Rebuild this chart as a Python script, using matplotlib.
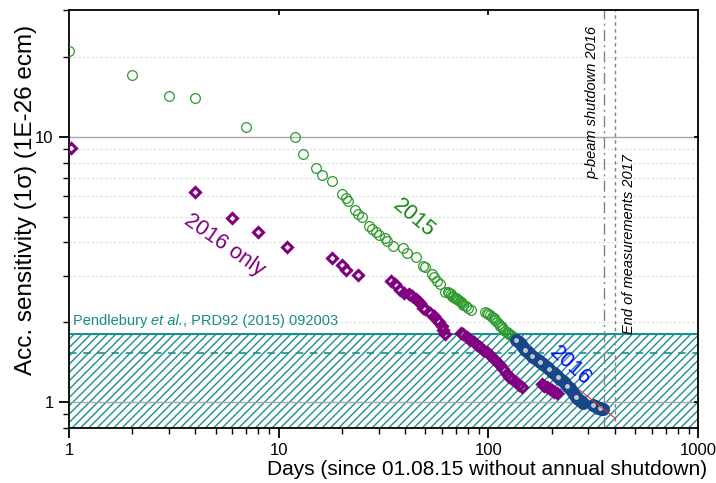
import matplotlib
matplotlib.use('Agg')
import matplotlib.pyplot as plt
from matplotlib.ticker import LogLocator, NullFormatter, FixedLocator, FixedFormatter

plt.rcParams['font.family'] = ['Liberation Sans', 'DejaVu Sans']
plt.rcParams['hatch.linewidth'] = 1.0

# 2015 run (open green circles)
days_2015 = [1, 2, 3, 4, 7, 12, 13, 15, 16, 18, 20, 21, 21.5, 23, 24, 25, 27, 28, 29, 30,
             32, 33, 35, 39, 41, 45, 48.6, 50, 54, 55, 57, 59, 62, 64, 65, 66, 67, 68, 69,
             70, 71, 72, 73, 74, 75, 76, 78, 80, 83,
             96, 98, 100, 102, 104, 106, 108, 110, 112, 114, 116, 118, 120, 122, 124, 126,
             128, 130, 133, 136]
sens_2015 = [21.0, 17.1, 14.2, 14.0, 10.9, 10.0, 8.58, 7.63, 7.18, 6.82, 6.11, 5.88, 5.74, 5.30,
             5.12, 4.97, 4.62, 4.51, 4.37, 4.28, 4.16, 4.06, 3.89, 3.80, 3.64, 3.52, 3.27, 3.22,
             3.03, 2.97, 2.87, 2.80, 2.61, 2.60, 2.57, 2.55, 2.52, 2.50, 2.48, 2.46, 2.44, 2.42,
             2.40, 2.38, 2.36, 2.33, 2.30, 2.26, 2.22,
             2.18, 2.17, 2.15, 2.13, 2.10, 2.07, 2.04, 2.00, 1.97, 1.94, 1.92, 1.89, 1.86, 1.84,
             1.82, 1.80, 1.79, 1.77, 1.75, 1.72]

# 2016 data only (purple diamonds)
days_2016only = [1.02, 4, 6, 8, 11, 18, 20, 21, 24,
                 34.5, 36, 38, 39.6, 42, 43, 45, 46, 47, 48.6, 50, 52.7, 55, 56.7, 58, 59.8,
                 61, 62,
                 74, 76, 79, 82, 85, 88, 91, 94, 98, 102, 106, 110, 114, 118, 122, 126, 130,
                 135, 140, 144,
                 180, 185, 190, 196, 200, 206, 212]
sens_2016only = [9.07, 6.21, 4.95, 4.38, 3.85, 3.49, 3.29, 3.15, 3.02,
                 2.87, 2.78, 2.64, 2.59, 2.55, 2.52, 2.44, 2.41, 2.37, 2.27, 2.24, 2.17, 2.12,
                 2.04, 2.00, 1.93, 1.87, 1.80,
                 1.83, 1.80, 1.76, 1.72, 1.68, 1.65, 1.62, 1.58, 1.55, 1.51, 1.46, 1.42, 1.38,
                 1.33, 1.28, 1.25, 1.22, 1.19, 1.16, 1.14,
                 1.17, 1.15, 1.14, 1.12, 1.11, 1.09, 1.08]

# combined 2015+2016 (filled blue circles)
days_2016 = [136, 140, 143, 146, 149, 152, 155, 158, 161, 164, 168, 172, 176, 180, 185, 190,
             195, 200, 205, 210, 215, 220, 226, 232, 238, 244, 250, 256, 262, 268, 275, 282,
             316, 322, 328, 334, 340, 346, 352]
sens_2016 = [1.72, 1.69, 1.66, 1.62, 1.58, 1.56, 1.54, 1.52, 1.50, 1.48, 1.46, 1.44, 1.42,
             1.40, 1.38, 1.36, 1.33, 1.30, 1.29, 1.27, 1.24, 1.22, 1.20, 1.18, 1.15, 1.13,
             1.10, 1.07, 1.05, 1.03, 1.01, 0.99,
             0.975, 0.97, 0.96, 0.955, 0.95, 0.945, 0.94]

# extrapolation to end of measurements
extrap_days = [273, 402]
extrap_sens = [1.11, 0.871]

limit_upper = 1.80
limit_central = 1.53
shutdown_day = 355
end_day = 400

fig = plt.figure(figsize=(7.16, 4.83), dpi=100)
ax = fig.add_axes([0.0964, 0.1139, 0.8786, 0.8651])
ax.set_xscale('log')
ax.set_yscale('log')
ax.set_xlim(1, 1000)
ax.set_ylim(0.8, 30)

# grid: solid at decades, dotted in between
for v in [1, 10]:
    ax.axhline(v, color='#a8a8a8', lw=1.0, zorder=1)
for v in [2, 3, 4, 5, 6, 7, 8, 9, 20]:
    ax.axhline(v, color='#dcdcdc', lw=0.8, ls=(0, (2, 2)), zorder=1)

# previous limit band
ax.fill_between([1, 1000], 0.8, limit_upper, facecolor='none', edgecolor='#1a9090',
                hatch='////', lw=0, zorder=0.5)
ax.axhline(limit_upper, color='#1a9090', lw=1.5, zorder=2)
ax.axhline(limit_central, color='#1a9090', lw=1.2, ls=(0, (4.5, 4)), zorder=2)

# reference label, chained pieces so "et al." can be italic
ref_color = '#1a8a8a'
t = ax.text(1.04, 2.02, 'Pendlebury ', color=ref_color, fontsize=10.5, va='center', ha='left')
for piece, style in [('et al.', 'italic'), (', PRD92 (2015) 092003', 'normal')]:
    t = ax.annotate(piece, xy=(1, 0), xycoords=t, va='bottom', ha='left',
                    color=ref_color, fontsize=10.5, style=style)

ax.axvline(shutdown_day, color='#808080', lw=1.0, ls=(0, (8, 3, 1.5, 3)), zorder=2)
ax.axvline(end_day, color='#808080', lw=1.0, ls=(0, (2.5, 2.5)), zorder=2)
ax.text(338, 26.1, 'p-beam shutdown 2016', rotation=90, style='italic', fontsize=10.5,
        ha='right', va='top')
ax.text(470, 1.8, 'End of measurements 2017', rotation=90, style='italic', fontsize=10.5,
        ha='center', va='bottom')

ax.plot(days_2015, sens_2015, ls='none', marker='o', ms=7, mfc='none', mec='#2e9a2e',
        mew=0.9, zorder=3)
ax.plot(days_2016only, sens_2016only, ls='none', marker='D', ms=5.2, mfc='none', mec='#800080',
        mew=2.2, zorder=3)
ax.plot(days_2016, sens_2016, ls='none', marker='o', ms=8.5, mfc='#17468a', mec='#17468a',
        mew=0.8, zorder=4)
ax.plot(days_2016[::4], sens_2016[::4], ls='none', marker='o', ms=2.5, mfc='#c8c8c8',
        mec='#c8c8c8', zorder=5)
ax.plot(extrap_days, extrap_sens, color='#e03030', lw=0.8, zorder=6)

ax.text(44, 4.95, '2015', color='#118811', fontsize=15.5, rotation=-40,
        ha='center', va='center')
ax.text(5.5, 3.9, '2016 only', color='#800080', fontsize=15.5, rotation=-35,
        ha='center', va='center')
ax.text(245, 1.37, '2016', color='#0a0aff', fontsize=15.5, rotation=-42,
        ha='center', va='center')

# ticks: outward with minors on left/bottom, inward majors on top/right
ax.xaxis.set_major_locator(FixedLocator([1, 10, 100, 1000]))
ax.xaxis.set_major_formatter(FixedFormatter(['1', '10', '100', '1000']))
ax.xaxis.set_minor_locator(LogLocator(base=10, subs=range(2, 10)))
ax.xaxis.set_minor_formatter(NullFormatter())
ax.yaxis.set_major_locator(FixedLocator([1, 10]))
ax.yaxis.set_major_formatter(FixedFormatter(['1', '10']))
ax.yaxis.set_minor_locator(LogLocator(base=10, subs=range(2, 10)))
ax.yaxis.set_minor_formatter(NullFormatter())
ax.tick_params(which='major', direction='out', length=7, width=1.3, labelsize=12,
               top=False, right=False)
ax.tick_params(which='minor', direction='out', length=4, width=1.0, top=False, right=False)
ax.tick_params(axis='x', pad=4)
ax.tick_params(axis='y', pad=4)
for x in [10, 100]:
    ax.plot([x, x], [30 / 1.035, 30], color='black', lw=1.3, zorder=6, clip_on=False)
for y in [1, 10]:
    ax.plot([1000 / 1.04, 1000], [y, y], color='black', lw=1.3, zorder=6, clip_on=False)
for s in ax.spines.values():
    s.set_linewidth(1.3)

fig.text(0.68, 0.027, 'Days (since 01.08.15 without annual shutdown)', fontsize=15,
         ha='center', va='center')
fig.text(0.036, 0.586, 'Acc. sensitivity (1\u03c3) (1E-26 ecm)', fontsize=17.5,
         ha='center', va='center', rotation=90)

fig.savefig('out.png', dpi=100)
